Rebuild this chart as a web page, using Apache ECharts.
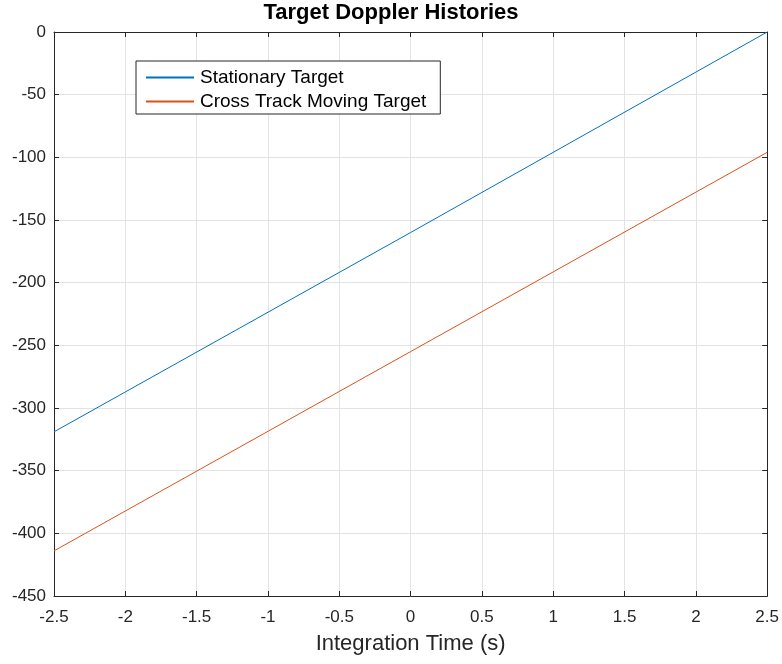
<!DOCTYPE html>
<html><head><meta charset="utf-8">
<script src="https://cdn.jsdelivr.net/npm/echarts@6/dist/echarts.min.js"></script>
<style>html,body{margin:0;padding:0;background:#fff}#c{width:782px;height:664px}</style>
</head><body><div id="c"></div>
<script>
const seriesNames = ['Stationary Target', 'Cross Track Moving Target'];
const timeValues = [-2.5, 0, 2.5];
const stationaryValues = [-319, -160, 0];
const movingValues = [-414, -255, -96];
const xTicks = [-2.5, -2, -1.5, -1, -0.5, 0, 0.5, 1, 1.5, 2, 2.5];
const yTicks = [-450, -400, -350, -300, -250, -200, -150, -100, -50, 0];

const FONT = '"Liberation Sans", Arial, sans-serif';
const AX = '#262626';
const chart = echarts.init(document.getElementById('c'), null, {renderer: 'canvas'});
const axisCommon = {
  axisLine: {show: true, onZero: false, lineStyle: {color: AX, width: 1}},
  axisTick: {show: true, inside: true, length: 5, lineStyle: {color: AX}},
};
chart.setOption({
  animation: false,
  title: {text: 'Target Doppler Histories', left: 'center', top: 2, padding: 0,
    textStyle: {fontFamily: FONT, fontSize: 22, fontWeight: 'bold', color: '#000'}},
  grid: {left: 54, top: 32, right: 13, bottom: 68, containLabel: false},
  legend: {
    orient: 'vertical', left: 136, top: 61,
    data: seriesNames,
    backgroundColor: '#fff', borderColor: AX, borderWidth: 1, borderRadius: 0,
    padding: [7, 14, 3, 9], itemGap: 5, itemWidth: 48, itemHeight: 14,
    itemStyle: {opacity: 0},
    textStyle: {fontFamily: FONT, fontSize: 19, color: '#000', padding: [0, 0, 0, 1]}
  },
  xAxis: [
    Object.assign({type: 'value', min: xTicks[0], max: xTicks[xTicks.length-1], interval: 0.5,
      name: 'Integration Time (s)', nameLocation: 'middle', nameGap: 37,
      nameTextStyle: {fontFamily: FONT, fontSize: 22, color: AX},
      axisLabel: {fontFamily: FONT, fontSize: 17, color: AX, margin: 13, formatter: v => String(v)},
      splitLine: {show: true, lineStyle: {color: '#e3e3e3', width: 1}}}, axisCommon),
    Object.assign({type: 'value', position: 'top', min: xTicks[0], max: xTicks[xTicks.length-1], interval: 0.5,
      axisLabel: {show: false}, splitLine: {show: false}}, axisCommon)
  ],
  yAxis: [
    Object.assign({type: 'value', min: yTicks[0], max: yTicks[yTicks.length-1], interval: 50,
      axisLabel: {fontFamily: FONT, fontSize: 17, color: AX, margin: 8},
      splitLine: {show: true, lineStyle: {color: '#e3e3e3', width: 1}}}, axisCommon),
    Object.assign({type: 'value', position: 'right', min: yTicks[0], max: yTicks[yTicks.length-1], interval: 50,
      axisLabel: {show: false}, splitLine: {show: false}}, axisCommon)
  ],
  series: [
    {name: seriesNames[0], type: 'line', symbol: 'none', showSymbol: false,
      data: timeValues.map((t, i) => [t, stationaryValues[i]]),
      lineStyle: {color: '#0072BD', width: 1}, itemStyle: {color: '#0072BD'}, z: 3},
    {name: seriesNames[1], type: 'line', symbol: 'none', showSymbol: false,
      data: timeValues.map((t, i) => [t, movingValues[i]]),
      lineStyle: {color: '#D95319', width: 1}, itemStyle: {color: '#D95319'}, z: 3}
  ]
});
</script></body></html>
